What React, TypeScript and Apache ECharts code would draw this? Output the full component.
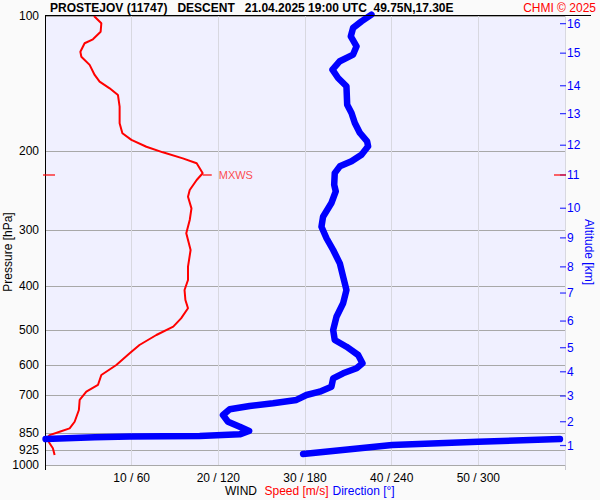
import React, { useEffect, useRef } from 'react';
import * as echarts from 'echarts';

const TITLE = 'PROSTEJOV (11747)   DESCENT   21.04.2025 19:00 UTC  49.75N,17.30E';
const COPYRIGHT = 'CHMI © 2025';

const pressureTicks = [100, 200, 300, 400, 500, 600, 700, 850, 925, 1000];
const speedTicks = [10, 20, 30, 40, 50];
const directionTicks = [60, 120, 180, 240, 300];

const altitudeKm = [1, 2, 3, 4, 5, 6, 7, 8, 9, 10, 11, 12, 13, 14, 15, 16];
const altitudePressure = [905, 801, 702, 620, 548, 478, 414, 362, 312, 268, 226, 194, 165, 143, 121, 104];

const speedPressure = [
  100, 103.8, 108.4, 112.7, 115.0, 120.1, 123.2, 128.5, 135.3, 140.0, 144.9, 150.0, 159.2, 173.4, 182.4,
  188.8, 195.5, 201.2, 207.5, 212.8, 224.0, 231.9, 244.1, 252.6, 268.2, 284.7, 304.8, 332.0, 361.7, 387.3,
  407.6, 429.1, 447.7, 471.3, 492.0, 513.4, 540.4, 563.9, 598.7, 630.2, 663.3, 686.5, 716.4, 754.2, 801,
  828.6, 843, 857.8, 872.4, 894.7, 918, 950,
];
const speedValues = [
  5.65, 6.5, 6.42, 5.53, 4.57, 4.08, 4.19, 5.15, 5.73, 6.3, 7.46, 8.42, 8.61, 8.61, 8.93,
  9.97, 11.7, 13.6, 15.9, 17.5, 18.2, 17.5, 16.7, 16.5, 16.9, 16.7, 16.3, 16.8, 16.5, 16.5,
  16.1, 16.2, 16.5, 15.7, 14.8, 12.85, 10.9, 9.77, 8.23, 6.5, 6.11, 4.77, 4.0, 3.91, 3.42,
  2.84, 1.69, 0.53, 0.22, 0.53, 0.91, 1.11,
];

// direction above the 0/360 wrap
const dirPressureUpper = [
  99.3, 102.8, 106.3, 111.0, 116.8, 121.9, 126.1, 131.7, 137.4, 143.4, 157.6, 164.4, 173.1, 182.2, 190.1,
  195.1, 203.7, 210.7, 216.2, 223.8, 237.6, 245.8, 260.9, 279.9, 294.6, 312.6, 332.0, 355.5, 380.8, 407.6,
  436.4, 467.4, 500.5, 526.8, 545.2, 568.9, 593.5, 609.0, 624.8, 641.1, 669.1, 686.5, 698.3, 716.4, 728.6,
  738.8, 751.5, 773.8, 801, 821.7, 840.2, 854.6, 862.1, 864.3, 867.8, 875.6,
];
const dirValuesUpper = [
  226, 219.1, 213.3, 211.7, 215.7, 213.3, 204.1, 199.0, 202.9, 208.7, 209.2, 212.2, 214.5, 218.0, 223.0,
  223.7, 219.1, 212.2, 204.1, 200.6, 200.2, 201.3, 198.3, 192.5, 191.4, 194.9, 199.5, 204.1, 206.4, 208.7,
  206.4, 201.8, 199.5, 200.6, 208.7, 216.8, 219.8, 215.7, 206.4, 199.5, 198.3, 190.2, 181.0, 174.1, 157.9,
  141.7, 127.9, 123.2, 126.7, 134.8, 141.3, 134.8, 107.1, 58.6, 34.4, 0.4,
];
// direction below the wrap
const dirPressureLower = [875.6, 887.4, 902.5, 945.2];
const dirValuesLower = [356.5, 299.9, 240.3, 178.7];

const maxWindPressure = 226;
const maxWindSpeed = 18.2;

const FONT = '"Liberation Sans", Arial, sans-serif';

function zip(xs: number[], ys: number[]) {
  return xs.map((x, i) => [x, ys[i]]);
}

export default function App() {
  const ref = useRef<HTMLDivElement>(null);

  useEffect(() => {
    if (!ref.current) return;
    const chart = echarts.init(ref.current, undefined, { renderer: 'svg' });

    const dirStyle = { color: '#0000ff', width: 6.5, cap: 'round', join: 'round' };

    const option: any = {
      animation: false,
      backgroundColor: '#fafafa',
      textStyle: { fontFamily: FONT },
      grid: {
        left: 45,
        top: 16,
        right: 35,
        bottom: 35,
        show: true,
        backgroundColor: '#f0f0ff',
        borderWidth: 0,
      },
      xAxis: [
        {
          type: 'value',
          min: 0,
          max: 60,
          interval: 10,
          position: 'bottom',
          axisLine: { show: false },
          axisTick: { show: false },
          axisLabel: {
            margin: 7,
            color: '#000',
            fontSize: 12,
            fontFamily: FONT,
            formatter: (v: number) => {
              const i = speedTicks.indexOf(v);
              return i >= 0 ? `${speedTicks[i]} / ${directionTicks[i]}` : '';
            },
          },
          splitLine: { show: true, lineStyle: { color: '#d8d8e0', width: 1 } },
        },
        {
          type: 'value',
          min: 0,
          max: 360,
          show: false,
        },
      ],
      yAxis: [
        {
          type: 'log',
          logBase: 10,
          min: 100,
          max: 1000,
          inverse: true,
          position: 'left',
          axisLine: { show: false },
          axisTick: { show: false, customValues: pressureTicks },
          axisLabel: {
            customValues: pressureTicks,
            margin: 6,
            color: '#000',
            fontSize: 12,
            fontFamily: FONT,
            formatter: (v: number) => String(Math.round(v)),
          },
          splitLine: { show: true, lineStyle: { color: '#a8a8a8', width: 1 } },
        },
        {
          type: 'log',
          logBase: 10,
          min: 100,
          max: 1000,
          inverse: true,
          position: 'right',
          axisLine: { show: true, lineStyle: { color: '#d4d4dc', width: 1 } },
          axisTick: { show: false },
          axisLabel: {
            customValues: altitudePressure,
            margin: 2,
            color: '#0000ff',
            fontSize: 12,
            fontFamily: FONT,
            formatter: (v: number) => {
              let best = 0;
              for (let i = 0; i < altitudePressure.length; i++) {
                if (Math.abs(altitudePressure[i] - v) < Math.abs(altitudePressure[best] - v)) best = i;
              }
              return String(altitudeKm[best]);
            },
          },
          splitLine: { show: false },
        },
      ],
      series: [
        {
          name: 'Speed',
          type: 'line',
          xAxisIndex: 0,
          yAxisIndex: 0,
          data: zip(speedValues, speedPressure),
          showSymbol: false,
          lineStyle: { color: '#ff0000', width: 2 },
          z: 3,
        },
        {
          name: 'Direction',
          type: 'line',
          xAxisIndex: 1,
          yAxisIndex: 0,
          data: zip(dirValuesUpper, dirPressureUpper),
          showSymbol: false,
          clip: false,
          lineStyle: dirStyle,
          z: 4,
        },
        {
          name: 'Direction2',
          type: 'line',
          xAxisIndex: 1,
          yAxisIndex: 0,
          data: zip(dirValuesLower, dirPressureLower),
          showSymbol: false,
          lineStyle: dirStyle,
          z: 4,
        },
        {
          name: 'AltitudeTicks',
          type: 'scatter',
          xAxisIndex: 0,
          yAxisIndex: 0,
          data: altitudePressure.map((p) => [60, p]),
          symbol: 'rect',
          symbolSize: [6, 1.2],
          symbolOffset: [-2, 0],
          itemStyle: { color: '#0000ff' },
          silent: true,
          z: 5,
        },
        {
          name: 'MXWS',
          type: 'scatter',
          xAxisIndex: 0,
          yAxisIndex: 0,
          data: [[maxWindSpeed, maxWindPressure]],
          symbol: 'rect',
          symbolSize: [9, 1.5],
          symbolOffset: [4.5, 0],
          itemStyle: { color: '#ff0000' },
          label: {
            show: true,
            position: 'right',
            distance: 7,
            formatter: 'MXWS',
            color: '#ff2020',
            fontSize: 11,
            fontFamily: FONT,
          },
          z: 5,
        },
        {
          name: 'MXWSEdges',
          type: 'scatter',
          xAxisIndex: 0,
          yAxisIndex: 0,
          data: [
            { value: [0, maxWindPressure], symbolOffset: [4, 0] },
            { value: [60, maxWindPressure], symbolOffset: [-5, 0] },
          ],
          symbol: 'rect',
          symbolSize: [12, 1.5],
          itemStyle: { color: '#ff0000' },
          z: 6,
        },
      ],
      graphic: [
        {
          type: 'line',
          shape: { x1: 45, y1: 15.5, x2: 591, y2: 15.5 },
          style: { stroke: '#000', lineWidth: 1 },
          z: 10,
        },
        {
          type: 'line',
          shape: { x1: 45.5, y1: 15, x2: 45.5, y2: 470 },
          style: { stroke: '#000', lineWidth: 1 },
          z: 1,
        },
        {
          type: 'line',
          shape: { x1: 565.5, y1: 465, x2: 565.5, y2: 470 },
          style: { stroke: '#c8c8d0', lineWidth: 1 },
          z: 1,
        },
        {
          type: 'text',
          x: 50,
          y: 8,
          style: {
            text: TITLE,
            fill: '#000',
            fontSize: 12,
            fontWeight: 'bold',
            fontFamily: FONT,
            align: 'left',
            verticalAlign: 'middle',
          },
          z: 11,
        },
        {
          type: 'text',
          x: 596,
          y: 8,
          style: {
            text: COPYRIGHT,
            fill: '#ff0000',
            fontSize: 12,
            fontFamily: FONT,
            align: 'right',
            verticalAlign: 'middle',
          },
          z: 11,
        },
        {
          type: 'text',
          x: 8,
          y: 252,
          rotation: Math.PI / 2,
          style: {
            text: 'Pressure [hPa]',
            fill: '#000',
            fontSize: 12,
            fontFamily: FONT,
            align: 'center',
            verticalAlign: 'middle',
          },
        },
        {
          type: 'text',
          x: 589,
          y: 252,
          rotation: -Math.PI / 2,
          style: {
            text: 'Altitude [km]',
            fill: '#0000ff',
            fontSize: 12,
            fontFamily: FONT,
            align: 'center',
            verticalAlign: 'middle',
          },
        },
        {
          type: 'text',
          x: 225,
          y: 491,
          style: { text: 'WIND', fill: '#000', fontSize: 12, fontFamily: FONT, align: 'left', verticalAlign: 'middle' },
        },
        {
          type: 'text',
          x: 264.5,
          y: 491,
          style: { text: 'Speed [m/s]', fill: '#ff0000', fontSize: 12, fontFamily: FONT, align: 'left', verticalAlign: 'middle' },
        },
        {
          type: 'text',
          x: 332.5,
          y: 491,
          style: { text: 'Direction [°]', fill: '#0000ff', fontSize: 12, fontFamily: FONT, align: 'left', verticalAlign: 'middle' },
        },
      ],
    };

    chart.setOption(option);
    return () => chart.dispose();
  }, []);

  return (
    <div
      ref={ref}
      style={{ position: 'fixed', left: 0, top: 0, width: 600, height: 500 }}
    />
  );
}
